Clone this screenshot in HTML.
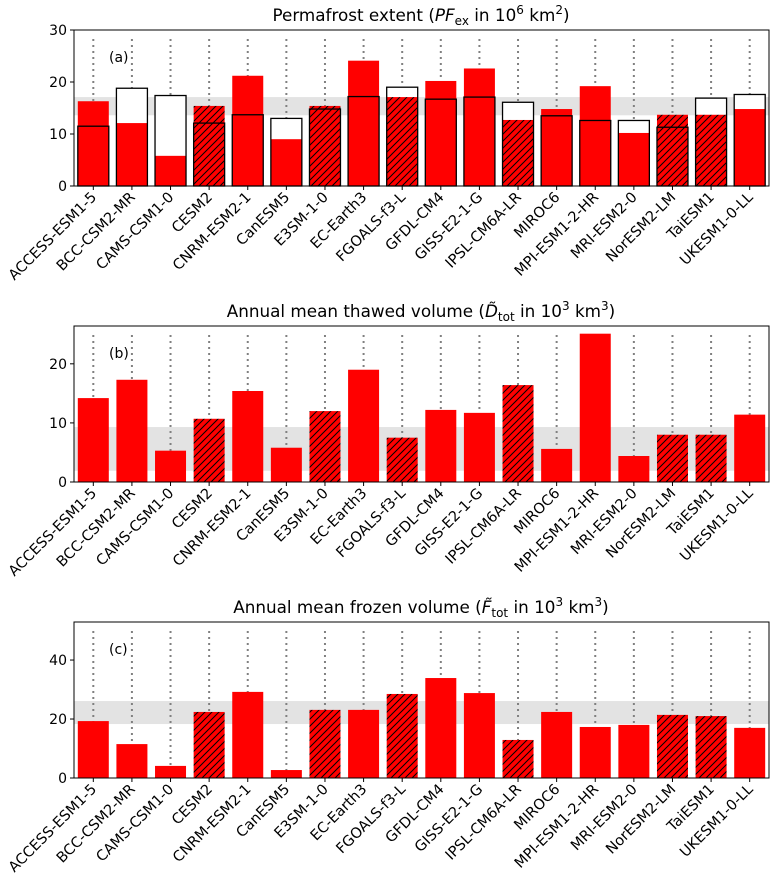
<!DOCTYPE html>
<html><head><meta charset="utf-8">
<style>
body{margin:0;background:#fff}
svg{font-family:"DejaVu Sans","Liberation Sans",sans-serif;display:block}
</style></head>
<body>
<svg id="fig" width="777" height="884" viewBox="0 0 777 884" xmlns="http://www.w3.org/2000/svg">
<defs>
<pattern id="hatch" patternUnits="userSpaceOnUse" width="7" height="7">
<rect width="7" height="7" fill="#ff0000"/>
<path d="M-1,8 L8,-1 M-1,1 L1,-1 M6,8 L8,6" stroke="#000" stroke-width="1"/>
</pattern>
</defs>
</svg>
<script>
const models = ["ACCESS-ESM1-5","BCC-CSM2-MR","CAMS-CSM1-0","CESM2","CNRM-ESM2-1","CanESM5","E3SM-1-0","EC-Earth3","FGOALS-f3-L","GFDL-CM4","GISS-E2-1-G","IPSL-CM6A-LR","MIROC6","MPI-ESM1-2-HR","MRI-ESM2-0","NorESM2-LM","TaiESM1","UKESM1-0-LL"];
const hatched = [3,6,8,11,15,16];
const extentModel = [16.3,12.1,5.8,15.4,21.2,9.0,15.4,24.1,17.1,20.2,22.6,12.7,14.8,19.2,10.2,13.7,13.7,14.8];
const extentObs = [11.5,18.8,17.4,12.1,13.7,13.0,14.8,17.2,19.0,16.7,17.1,16.1,13.5,12.6,12.6,11.3,16.9,17.6];
const extentBand = [13.6,17.1];
const thawed = [14.2,17.3,5.3,10.7,15.4,5.8,12.0,19.0,7.5,12.2,11.7,16.4,5.6,25.1,4.4,8.0,8.0,11.4];
const thawedBand = [1.9,9.3];
const frozen = [19.3,11.5,4.1,22.4,29.2,2.7,23.1,23.1,28.5,33.9,28.8,12.9,22.4,17.3,18.0,21.4,21.0,17.0];
const frozenBand = [18.3,26.1];
const ticksA = [0,10,20,30], ticksB = [0,10,20], ticksC = [0,20,40];

const NS="http://www.w3.org/2000/svg";
const svg=document.getElementById('fig');
function mk(tag,attrs,parent){const e=document.createElementNS(NS,tag);for(const k in attrs)e.setAttribute(k,attrs[k]);(parent||svg).appendChild(e);return e;}

const X0=74,X1=769;
const step=(X1-X0)/18;
function xc(i){return X0+step*(i+0.5);}
const bw=31;

function panel(o){
  const g=mk('g',{});
  
  
  const y=v=>o.bot-(v/o.ymax)*(o.bot-o.top);
  const band=mk('rect',{x:X0,y:y(o.band[1]),width:X1-X0,height:y(o.band[0])-y(o.band[1]),fill:'#e3e3e3'},g);
  
  
  models.forEach((m,i)=>{
    const l=mk('line',{x1:xc(i),x2:xc(i),y1:o.top+9,y2:o.bot,stroke:'#808080','stroke-width':2,'stroke-dasharray':'2,4'},g);
    
    
  });
  models.forEach((m,i)=>{
    const h=hatched.includes(i);
    if(o.obs){
      const w=mk('rect',{x:xc(i)-bw/2,y:y(o.obs[i]),width:bw,height:o.bot-y(o.obs[i]),fill:'#fff'},g);
      
      
    }
    const r=mk('rect',{x:xc(i)-bw/2,y:y(o.vals[i]),width:bw,height:o.bot-y(o.vals[i]),fill:h?'url(#hatch)':'#ff0000'},g);
    
    
    if(o.obs){
      const s=mk('rect',{x:xc(i)-bw/2,y:y(o.obs[i]),width:bw,height:o.bot-y(o.obs[i]),fill:'none',stroke:'#000','stroke-width':1.3},g);
      
      
    }
  });
  const fr=mk('rect',{x:X0,y:o.top,width:X1-X0,height:o.bot-o.top,fill:'none',stroke:'#000','stroke-width':1},g);
  
  
  o.ticks.forEach(t=>{
    mk('line',{x1:X0-4,x2:X0,y1:y(t),y2:y(t),stroke:'#000'},g);
    const tx=mk('text',{x:X0-7,y:y(t)+5,'text-anchor':'end','font-size':14},g);
    tx.textContent=t;
    
    
  });
  models.forEach((m,i)=>{
    mk('line',{x1:xc(i),x2:xc(i),y1:o.bot,y2:o.bot+4,stroke:'#000'},g);
    const tx=mk('text',{x:0,y:0,'text-anchor':'end','font-size':14.5,transform:`translate(${xc(i)+4},${o.bot+12}) rotate(-45)`},g);
    tx.textContent=m;
    
    
  });
  const lab=mk('text',{x:109,y:o.top+32,'font-size':14},g);
  lab.textContent=o.label;
  
  
  const ti=mk('text',{x:421,y:o.top-9,'text-anchor':'middle','font-size':16.8},g);
  ti.innerHTML=o.title;
  
  
}

panel({name:'panel-a-extent',top:30,bot:186,ymax:30,vals:extentModel,obs:extentObs,band:extentBand,ticks:ticksA,label:'(a)',
  title:'Permafrost extent (<tspan font-style="italic">PF</tspan><tspan font-size="12" dy="4">ex</tspan><tspan dy="-4"> in 10</tspan><tspan font-size="12" dy="-7">6</tspan><tspan dy="7"> km</tspan><tspan font-size="12" dy="-7">2</tspan><tspan dy="7">)</tspan>'});
panel({name:'panel-b-thawed',top:326,bot:482,ymax:26.4,vals:thawed,band:thawedBand,ticks:ticksB,label:'(b)',
  title:'Annual mean thawed volume (<tspan font-style="italic">D̃</tspan><tspan font-size="12" dy="4">tot</tspan><tspan dy="-4"> in 10</tspan><tspan font-size="12" dy="-7">3</tspan><tspan dy="7"> km</tspan><tspan font-size="12" dy="-7">3</tspan><tspan dy="7">)</tspan>'});
panel({name:'panel-c-frozen',top:622,bot:778,ymax:52.9,vals:frozen,band:frozenBand,ticks:ticksC,label:'(c)',
  title:'Annual mean frozen volume (<tspan font-style="italic">F̃</tspan><tspan font-size="12" dy="4">tot</tspan><tspan dy="-4"> in 10</tspan><tspan font-size="12" dy="-7">3</tspan><tspan dy="7"> km</tspan><tspan font-size="12" dy="-7">3</tspan><tspan dy="7">)</tspan>'});
</script>
</body></html>
